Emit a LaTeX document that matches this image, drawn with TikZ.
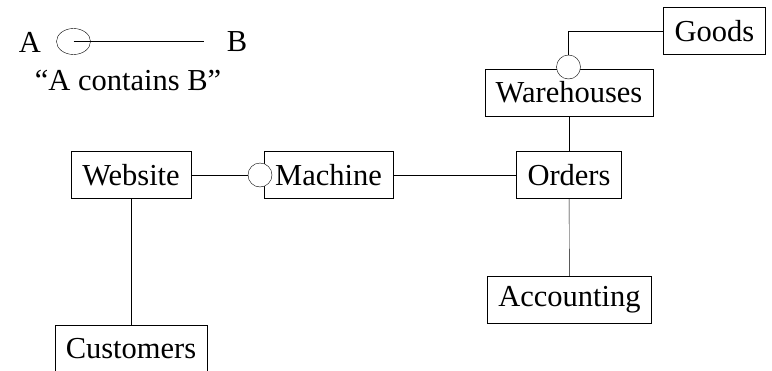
\documentclass[tikz,border=0pt]{standalone}
\usepackage{fontspec}
\setmainfont{Liberation Serif}
\usetikzlibrary{shapes.geometric}
\begin{document}
\begin{tikzpicture}
  [x=1pt,y=-1pt,
   every node/.style={font=\fontsize{30.5}{36}\selectfont},
   box/.style={draw,fill=white,inner xsep=11pt,inner ysep=0pt,minimum height=47pt},
   knob/.style={draw,circle,fill=white,inner sep=0pt,minimum size=24pt}]
  \useasboundingbox (0,0) rectangle (772,370);
  % legend
  \node (la) at (30,42) {A};
  \node[draw,ellipse,inner sep=0pt,minimum width=34pt,minimum height=26pt] (lring) at (73.5,41.5) {};
  \coordinate (lend) at (204,41.5);
  \node (lb) at (237,42) {B};
  \node (lnote) at (128,80) {“A contains B”};
  \draw (lring.center) -- (lend);
  % entities
  \node[box] (website) at (131,175) {Website};
  \node[box] (machine) at (328.5,175) {Machine};
  \node[box] (orders) at (569,175) {Orders};
  \node[box] (accounting) at (569.5,300) {Accounting};
  \node[box] (warehouses) at (569,92.5) {Warehouses};
  \node[box] (goods) at (714.5,31) {Goods};
  \node[box] (customers) at (131,348.5) {Customers};
  \node[knob] (mknob) at (260,175) {};
  \node[knob] (wknob) at (568.5,67) {};
 \path[draw]
        (website) edge (mknob)
        (machine) edge (orders)
        (warehouses) edge (orders)
        (orders) edge (accounting)
        (website) edge (customers);
 \draw (goods) -| (wknob);

\end{tikzpicture}
\end{document}
